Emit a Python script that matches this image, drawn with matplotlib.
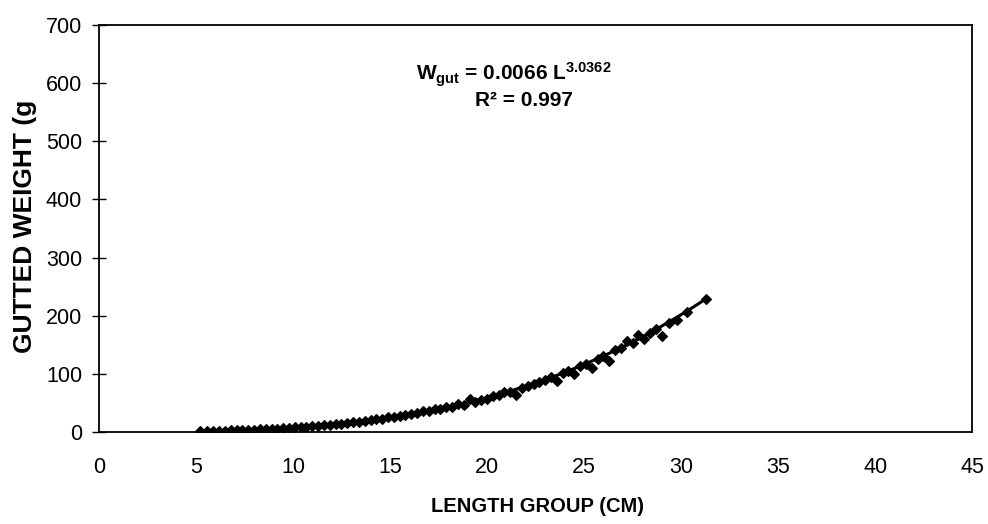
import numpy as np
import matplotlib.pyplot as plt

plt.rcParams['font.family'] = ['Liberation Sans', 'DejaVu Sans']
plt.rcParams['mathtext.fontset'] = 'custom'
plt.rcParams['mathtext.rm'] = 'Liberation Sans:bold'
plt.rcParams['mathtext.default'] = 'rm'

# length (cm) and gutted weight (g)
length = [5.2, 5.6, 5.9, 6.2, 6.5, 6.8, 7.1, 7.4, 7.7, 8.0, 8.3, 8.6, 8.9, 9.2, 9.5,
          9.8, 10.1, 10.4, 10.7, 11.0, 11.3, 11.6, 11.9, 12.2, 12.5, 12.8, 13.1,
          13.4, 13.7, 14.0, 14.3, 14.6, 14.9, 15.2, 15.5, 15.8, 16.1, 16.4, 16.7,
          17.0, 17.3, 17.6, 17.9, 18.2, 18.5, 18.8, 19.1, 19.4, 19.7, 20.0, 20.3,
          20.6, 20.9, 21.2, 21.5, 21.8, 22.1, 22.4, 22.7, 23.0, 23.3, 23.6, 23.9,
          24.2, 24.5, 24.8, 25.1, 25.4, 25.7, 26.0, 26.3, 26.6, 26.9, 27.2, 27.5,
          27.8, 28.1, 28.4, 28.7, 29.0, 29.4, 29.8, 30.3, 31.3]
weight = [1.0, 1.2, 1.5, 1.6, 2.0, 2.2, 2.5, 2.9, 3.2, 3.6, 4.2, 4.4, 5.0, 5.6, 6.2,
          6.6, 7.5, 7.9, 8.9, 9.4, 10.6, 11.2, 12.0, 13.3, 14.0, 15.0, 16.5,
          17.0, 18.9, 19.5, 21.5, 22.5, 24.6, 25.0, 28.0, 28.5, 31.0, 31.5, 35.0,
          35.2, 38.5, 39.0, 43.0, 43.5, 47.5, 46.0, 57.0, 50.5, 55.5, 57.0, 62.0,
          63.5, 68.0, 69.0, 64.0, 76.0, 79.5, 82.0, 86.5, 89.0, 93.5, 88.0, 100.5,
          104.0, 99.0, 113.0, 117.0, 110.0, 125.0, 131.0, 122.0, 141.0, 145.0, 157.0, 152.0,
          166.0, 159.0, 170.0, 177.0, 165.0, 187.0, 192.0, 206.0, 228.0]

# power trendline W = a * L^b
a_coef = 0.0066
b_coef = 3.0362
r2 = 0.997

fig = plt.figure(figsize=(9.88, 5.24), dpi=100)
ax = fig.add_axes([0.100, 0.176, 0.884, 0.776])

ax.scatter(length, weight, marker='D', s=24, color='black', zorder=3)
L_fit = np.linspace(min(length), max(length), 200)
ax.plot(L_fit, a_coef * L_fit ** b_coef, color='black', lw=2.2, zorder=4)

ax.set_xlim(0, 45)
ax.set_ylim(0, 700)
ax.set_xticks(range(0, 46, 5))
ax.set_yticks(range(0, 701, 100))
ax.tick_params(axis='x', length=0, pad=18, labelsize=15.5)
ax.tick_params(axis='y', direction='inout', length=10, width=1, pad=7, labelsize=15.5)
for s in ax.spines.values():
    s.set_linewidth(1.3)
    s.set_color('black')

ax.set_xlabel('LENGTH GROUP (CM)', fontsize=14.5, fontweight='bold')
ax.xaxis.set_label_coords(0.502, -0.160)
ax.set_ylabel('GUTTED WEIGHT (g', fontsize=19, fontweight='bold')
ax.yaxis.set_label_coords(-0.071, 0.505)

ax.text(0.475, 0.877, 'W$_{gut}$ = 0.0066 L$^{3.0362}$', transform=ax.transAxes,
        ha='center', va='center', fontsize=15, fontweight='bold')
ax.text(0.487, 0.814, 'R² = %.3f' % r2, transform=ax.transAxes,
        ha='center', va='center', fontsize=15, fontweight='bold')

fig.savefig('out.png', dpi=100)
